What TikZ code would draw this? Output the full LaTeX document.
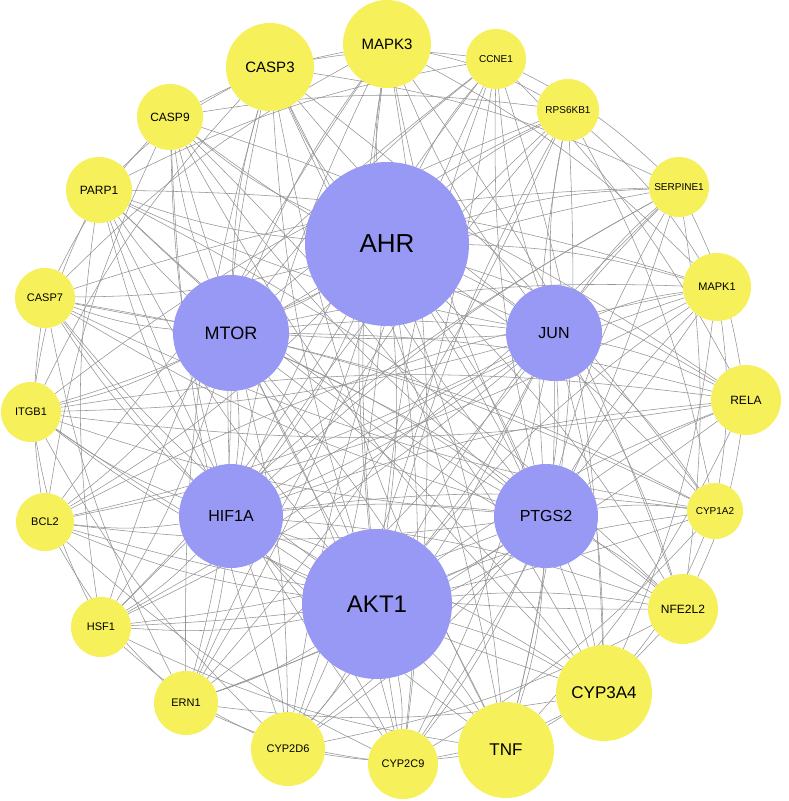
\documentclass[tikz,border=0pt]{standalone}
\usepackage{fontspec}
\setmainfont{Liberation Sans}
\usetikzlibrary{backgrounds}
\definecolor{ylw}{RGB}{246,240,90}
\definecolor{prp}{RGB}{152,152,245}
\tikzset{
 hub/.style={circle,fill=prp,inner sep=0pt,minimum size=#1},
 outer/.style={circle,fill=ylw,inner sep=0pt,minimum size=#1},
 edge/.style={draw=gray!85,line width=0.55pt}
}
\begin{document}
\begin{tikzpicture}[x=1pt,y=-1pt]
\useasboundingbox (0,0) rectangle (789,801);
\node[hub=164pt,font=\fontsize{26}{28}\selectfont] (h1) at (387,244) {AHR};
\node[hub=116pt,font=\fontsize{18}{20}\selectfont] (h2) at (231,333) {MTOR};
\node[hub=96pt,font=\fontsize{16}{18}\selectfont] (h3) at (554,333) {JUN};
\node[hub=104pt,font=\fontsize{16}{18}\selectfont] (h4) at (231,516) {HIF1A};
\node[hub=104pt,font=\fontsize{16}{18}\selectfont] (h5) at (546,516) {PTGS2};
\node[hub=150pt,font=\fontsize{24}{26}\selectfont] (h6) at (377,604) {AKT1};
\node[outer=88pt,font=\fontsize{15}{17}\selectfont] (o0) at (387,44) {MAPK3};
\node[outer=60pt,font=\fontsize{10}{12}\selectfont] (o1) at (496,59) {CCNE1};
\node[outer=62pt,font=\fontsize{10}{12}\selectfont] (o2) at (568,110) {RPS6KB1};
\node[outer=60pt,font=\fontsize{10}{12}\selectfont] (o3) at (679,187) {SERPINE1};
\node[outer=68pt,font=\fontsize{11}{13}\selectfont] (o4) at (717,287) {MAPK1};
\node[outer=70pt,font=\fontsize{12}{14}\selectfont] (o5) at (746,400) {RELA};
\node[outer=56pt,font=\fontsize{10}{12}\selectfont] (o6) at (715,511) {CYP1A2};
\node[outer=70pt,font=\fontsize{12}{14}\selectfont] (o7) at (683,609) {NFE2L2};
\node[outer=96pt,font=\fontsize{17}{19}\selectfont] (o8) at (604,693) {CYP3A4};
\node[outer=96pt,font=\fontsize{17}{19}\selectfont] (o9) at (506,750) {TNF};
\node[outer=70pt,font=\fontsize{11}{13}\selectfont] (o10) at (403,764) {CYP2C9};
\node[outer=74pt,font=\fontsize{11}{13}\selectfont] (o11) at (288,749) {CYP2D6};
\node[outer=64pt,font=\fontsize{11}{13}\selectfont] (o12) at (186,703) {ERN1};
\node[outer=60pt,font=\fontsize{11}{13}\selectfont] (o13) at (101,627) {HSF1};
\node[outer=58pt,font=\fontsize{11}{13}\selectfont] (o14) at (45,522) {BCL2};
\node[outer=60pt,font=\fontsize{11}{13}\selectfont] (o15) at (31,412) {ITGB1};
\node[outer=60pt,font=\fontsize{11}{13}\selectfont] (o16) at (45,298) {CASP7};
\node[outer=66pt,font=\fontsize{12}{14}\selectfont] (o17) at (99,190) {PARP1};
\node[outer=66pt,font=\fontsize{12}{14}\selectfont] (o18) at (170,117) {CASP9};
\node[outer=88pt,font=\fontsize{15}{17}\selectfont] (o19) at (270,67) {CASP3};
\begin{scope}[on background layer]
\foreach \a in {1,...,6}{
  \foreach \b in {1,...,6}{
    \ifnum\a<\b \draw[edge] (h\a) to[bend left=6] (h\b); \fi
  }
  \foreach \i in {0,...,19}{
    \draw[edge] (h\a) to[bend left=7] (o\i);
  }
}
\foreach \i in {0,...,19}{
  \foreach \d in {2,4,7,10}{
    \pgfmathtruncatemacro\j{mod(\i+\d,20)}
    \draw[edge] (o\i) to[bend left=8] (o\j);
  }
}
\end{scope}
\end{tikzpicture}
\end{document}
